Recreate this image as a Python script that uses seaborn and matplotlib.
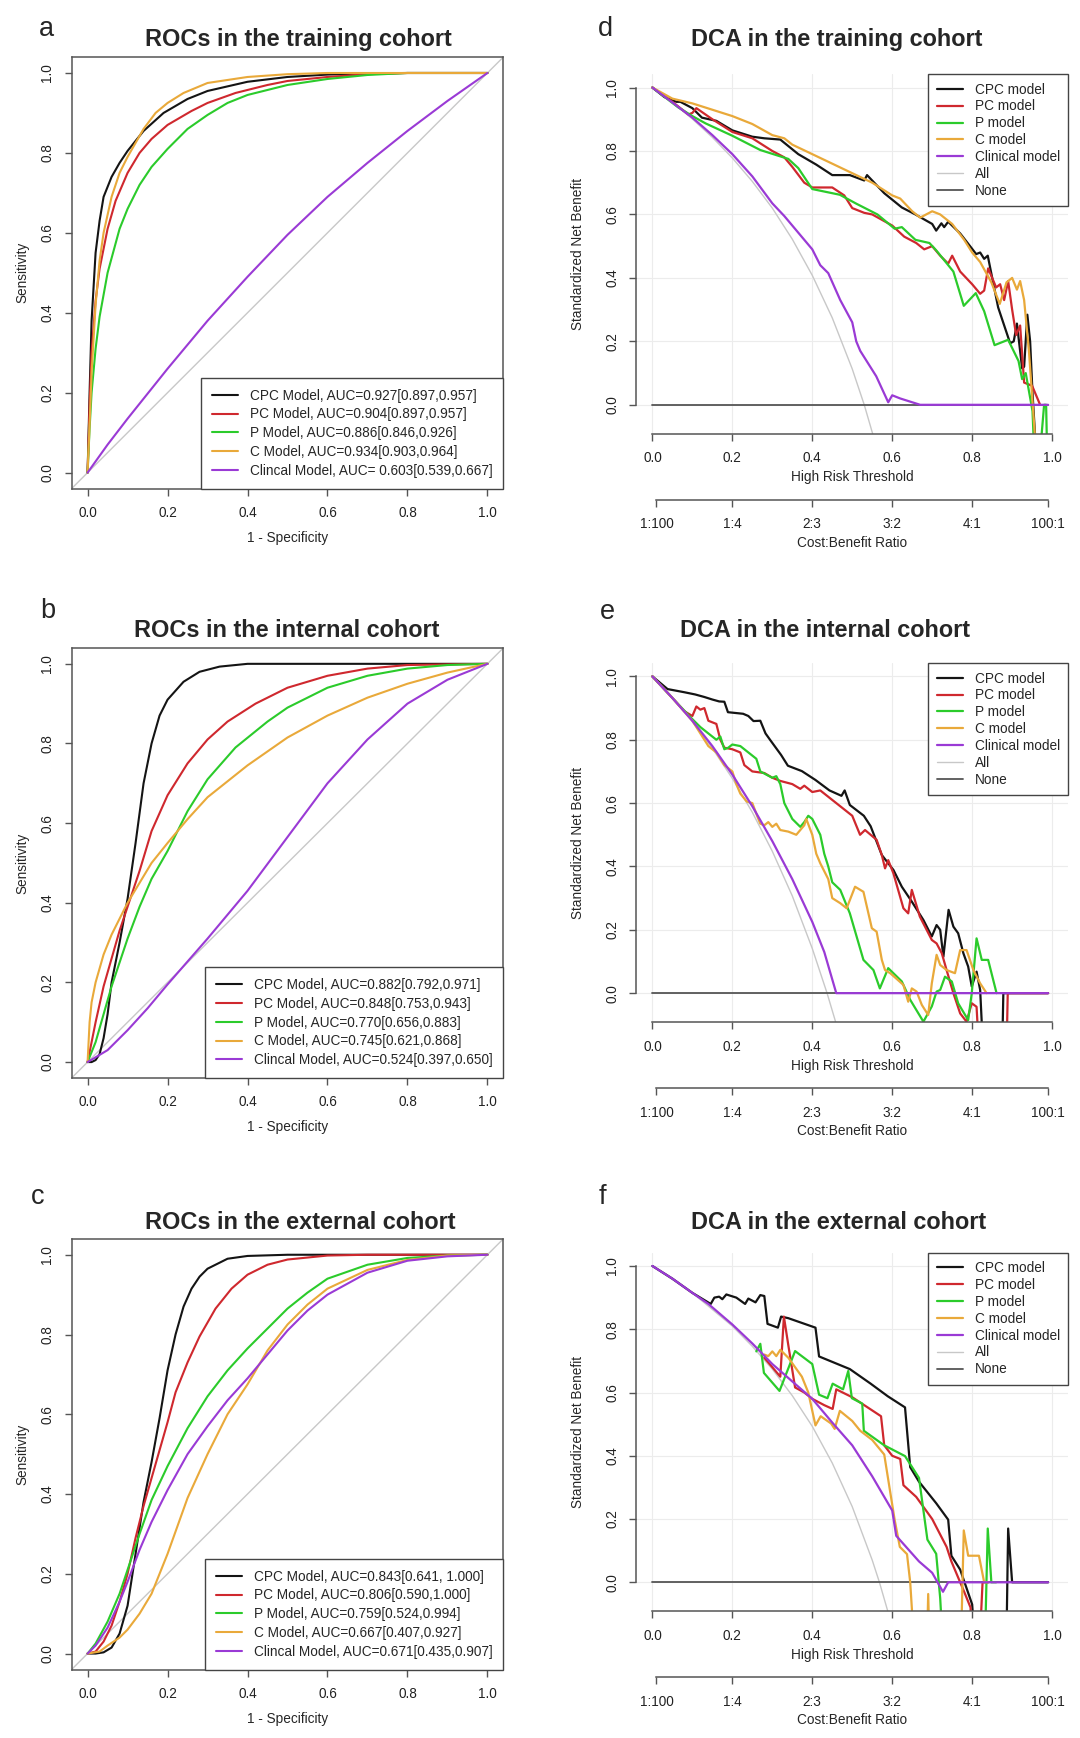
import pandas as pd
import seaborn as sns
import matplotlib.pyplot as plt
from matplotlib.lines import Line2D

# ---------------- ROC curves: (1 - specificity, sensitivity)
roc_a_cpc = [(0, 0), (0.005, 0.2), (0.01, 0.38), (0.02, 0.55), (0.03, 0.63), (0.04, 0.69), (0.06, 0.74),
             (0.08, 0.775), (0.1, 0.805), (0.14, 0.855), (0.19, 0.9), (0.25, 0.935), (0.3, 0.955), (0.4, 0.978),
             (0.5, 0.99), (0.6, 0.996), (0.7, 0.999), (0.8, 1.0), (1.0, 1.0)]
roc_a_pc = [(0, 0), (0.005, 0.17), (0.01, 0.3), (0.02, 0.43), (0.03, 0.51), (0.05, 0.61), (0.07, 0.68), (0.1, 0.75),
            (0.13, 0.8), (0.16, 0.835), (0.2, 0.87), (0.26, 0.905), (0.3, 0.925), (0.37, 0.95), (0.45, 0.97),
            (0.5, 0.98), (0.6, 0.99), (0.7, 0.997), (0.8, 1.0), (1.0, 1.0)]
roc_a_p = [(0, 0), (0.005, 0.11), (0.01, 0.2), (0.02, 0.31), (0.03, 0.39), (0.05, 0.5), (0.08, 0.61), (0.1, 0.66),
           (0.13, 0.72), (0.16, 0.765), (0.2, 0.81), (0.25, 0.86), (0.3, 0.895), (0.35, 0.925), (0.4, 0.945),
           (0.5, 0.97), (0.6, 0.985), (0.7, 0.995), (0.8, 1.0), (1.0, 1.0)]
roc_a_c = [(0, 0), (0.005, 0.12), (0.01, 0.25), (0.02, 0.42), (0.03, 0.53), (0.04, 0.6), (0.06, 0.69), (0.08, 0.75),
           (0.1, 0.79), (0.14, 0.86), (0.17, 0.9), (0.2, 0.925), (0.24, 0.95), (0.3, 0.975), (0.4, 0.99),
           (0.5, 0.997), (0.6, 1.0), (1.0, 1.0)]
roc_a_clin = [(0, 0), (0.05, 0.07), (0.1, 0.135), (0.2, 0.26), (0.3, 0.38), (0.4, 0.49), (0.5, 0.595), (0.6, 0.69),
              (0.7, 0.775), (0.8, 0.855), (0.9, 0.93), (1.0, 1.0)]

roc_b_cpc = [(0, 0), (0.01, 0.0), (0.02, 0.005), (0.03, 0.02), (0.04, 0.06), (0.05, 0.12), (0.06, 0.2), (0.08, 0.3),
             (0.1, 0.41), (0.12, 0.55), (0.14, 0.7), (0.16, 0.8), (0.18, 0.87), (0.2, 0.91), (0.24, 0.955),
             (0.28, 0.98), (0.33, 0.993), (0.4, 1.0), (1.0, 1.0)]
roc_b_pc = [(0, 0), (0.01, 0.05), (0.02, 0.1), (0.04, 0.19), (0.06, 0.26), (0.08, 0.33), (0.1, 0.39), (0.13, 0.48),
            (0.16, 0.58), (0.2, 0.67), (0.25, 0.75), (0.3, 0.81), (0.35, 0.855), (0.42, 0.9), (0.5, 0.94),
            (0.6, 0.97), (0.7, 0.988), (0.8, 0.997), (1.0, 1.0)]
roc_b_p = [(0, 0), (0.02, 0.05), (0.04, 0.12), (0.06, 0.19), (0.08, 0.25), (0.1, 0.31), (0.13, 0.39), (0.16, 0.46),
           (0.2, 0.53), (0.25, 0.63), (0.3, 0.71), (0.37, 0.79), (0.45, 0.855), (0.5, 0.89), (0.6, 0.94),
           (0.7, 0.97), (0.8, 0.988), (0.9, 0.997), (1.0, 1.0)]
roc_b_c = [(0, 0), (0.005, 0.1), (0.01, 0.15), (0.02, 0.2), (0.04, 0.27), (0.06, 0.32), (0.08, 0.36), (0.1, 0.4),
           (0.13, 0.45), (0.16, 0.5), (0.2, 0.55), (0.25, 0.61), (0.3, 0.665), (0.35, 0.705), (0.4, 0.745),
           (0.5, 0.815), (0.6, 0.87), (0.7, 0.915), (0.8, 0.95), (0.9, 0.978), (1.0, 1.0)]
roc_b_clin = [(0, 0), (0.05, 0.03), (0.1, 0.08), (0.15, 0.135), (0.2, 0.195), (0.3, 0.31), (0.4, 0.43), (0.5, 0.565),
              (0.6, 0.7), (0.7, 0.81), (0.8, 0.9), (0.9, 0.96), (1.0, 1.0)]

roc_c_cpc = [(0, 0), (0.02, 0.0), (0.04, 0.003), (0.06, 0.015), (0.08, 0.05), (0.1, 0.12), (0.12, 0.25), (0.14, 0.38),
             (0.16, 0.48), (0.18, 0.59), (0.2, 0.71), (0.22, 0.8), (0.24, 0.87), (0.26, 0.915), (0.28, 0.945),
             (0.3, 0.965), (0.35, 0.99), (0.4, 0.997), (0.5, 1.0), (1.0, 1.0)]
roc_c_pc = [(0, 0), (0.02, 0.005), (0.04, 0.03), (0.06, 0.07), (0.08, 0.13), (0.1, 0.2), (0.12, 0.29), (0.14, 0.37),
            (0.16, 0.44), (0.18, 0.51), (0.2, 0.58), (0.22, 0.655), (0.25, 0.73), (0.28, 0.795), (0.32, 0.865),
            (0.36, 0.915), (0.4, 0.95), (0.45, 0.975), (0.5, 0.988), (0.6, 0.998), (0.7, 1.0), (1.0, 1.0)]
roc_c_p = [(0, 0), (0.02, 0.025), (0.05, 0.08), (0.08, 0.15), (0.1, 0.21), (0.13, 0.3), (0.16, 0.385), (0.2, 0.47),
           (0.25, 0.565), (0.3, 0.645), (0.35, 0.71), (0.4, 0.765), (0.45, 0.815), (0.5, 0.865), (0.55, 0.905),
           (0.6, 0.94), (0.7, 0.975), (0.8, 0.992), (0.9, 0.998), (1.0, 1.0)]
roc_c_c = [(0, 0), (0.03, 0.005), (0.05, 0.02), (0.08, 0.04), (0.1, 0.06), (0.13, 0.1), (0.16, 0.15), (0.2, 0.25),
           (0.25, 0.39), (0.3, 0.5), (0.35, 0.6), (0.4, 0.675), (0.45, 0.76), (0.5, 0.825), (0.55, 0.875),
           (0.6, 0.915), (0.7, 0.962), (0.8, 0.987), (0.9, 0.998), (1.0, 1.0)]
roc_c_clin = [(0, 0), (0.02, 0.02), (0.05, 0.065), (0.08, 0.13), (0.1, 0.18), (0.13, 0.26), (0.16, 0.33), (0.2, 0.41),
              (0.25, 0.5), (0.3, 0.57), (0.35, 0.635), (0.4, 0.69), (0.45, 0.75), (0.5, 0.81), (0.55, 0.86),
              (0.6, 0.9), (0.7, 0.955), (0.8, 0.985), (0.9, 0.996), (1.0, 1.0)]

roc_labels_a = ["CPC Model, AUC=0.927[0.897,0.957]", "PC Model, AUC=0.904[0.897,0.957]",
                "P Model, AUC=0.886[0.846,0.926]", "C Model, AUC=0.934[0.903,0.964]",
                "Clincal Model, AUC= 0.603[0.539,0.667]"]
roc_labels_b = ["CPC Model, AUC=0.882[0.792,0.971]", "PC Model, AUC=0.848[0.753,0.943]",
                "P Model, AUC=0.770[0.656,0.883]", "C Model, AUC=0.745[0.621,0.868]",
                "Clincal Model, AUC=0.524[0.397,0.650]"]
roc_labels_c = ["CPC Model, AUC=0.843[0.641, 1.000]", "PC Model, AUC=0.806[0.590,1.000]",
                "P Model, AUC=0.759[0.524,0.994]", "C Model, AUC=0.667[0.407,0.927]",
                "Clincal Model, AUC=0.671[0.435,0.907]"]

# ---------------- DCA curves: (high risk threshold, standardized net benefit)
dca_d_all = [(0, 1.0), (0.05, 0.953), (0.1, 0.901), (0.15, 0.843), (0.2, 0.778), (0.25, 0.704), (0.3, 0.62),
             (0.35, 0.522), (0.4, 0.408), (0.45, 0.274), (0.5, 0.113), (0.53, 0.0), (0.56, -0.13)]
dca_d_cpc = [(0, 1.0), (0.03, 0.97), (0.06, 0.955), (0.07, 0.955), (0.1, 0.935), (0.124, 0.905), (0.16, 0.895),
             (0.2, 0.865), (0.25, 0.845), (0.28, 0.84), (0.32, 0.836), (0.365, 0.79), (0.41, 0.757), (0.45, 0.724),
             (0.494, 0.724), (0.53, 0.707), (0.537, 0.724), (0.58, 0.667), (0.624, 0.622), (0.658, 0.6),
             (0.7, 0.57), (0.71, 0.549), (0.723, 0.572), (0.73, 0.56), (0.74, 0.577), (0.77, 0.54), (0.796, 0.498),
             (0.81, 0.475), (0.82, 0.48), (0.83, 0.46), (0.839, 0.47), (0.865, 0.307), (0.895, 0.194), (0.904, 0.2),
             (0.912, 0.256), (0.925, 0.115), (0.93, 0.12), (0.938, 0.284), (0.945, 0.2), (0.951, 0.036),
             (0.96, -0.15)]
dca_d_pc = [(0, 1.0), (0.05, 0.955), (0.09, 0.915), (0.1, 0.92), (0.11, 0.935), (0.15, 0.9), (0.2, 0.86),
            (0.25, 0.84), (0.3, 0.8), (0.33, 0.78), (0.35, 0.75), (0.38, 0.7), (0.4, 0.685), (0.45, 0.685),
            (0.48, 0.66), (0.5, 0.62), (0.53, 0.605), (0.55, 0.6), (0.6, 0.565), (0.63, 0.53), (0.66, 0.51),
            (0.68, 0.49), (0.7, 0.5), (0.72, 0.47), (0.74, 0.445), (0.75, 0.47), (0.77, 0.42), (0.8, 0.38),
            (0.82, 0.35), (0.83, 0.36), (0.84, 0.43), (0.86, 0.37), (0.87, 0.38), (0.88, 0.33), (0.89, 0.39),
            (0.9, 0.3), (0.91, 0.22), (0.92, 0.25), (0.93, 0.07), (0.95, 0.06), (0.97, 0.0)]
dca_d_p = [(0, 1.0), (0.064, 0.938), (0.1, 0.91), (0.133, 0.887), (0.2, 0.848), (0.27, 0.803), (0.34, 0.775),
           (0.365, 0.746), (0.4, 0.68), (0.469, 0.662), (0.51, 0.634), (0.563, 0.6), (0.606, 0.555), (0.624, 0.56),
           (0.658, 0.52), (0.693, 0.51), (0.71, 0.487), (0.753, 0.42), (0.779, 0.312), (0.809, 0.352),
           (0.83, 0.295), (0.856, 0.188), (0.89, 0.205), (0.916, 0.138), (0.925, 0.081), (0.934, 0.1),
           (0.951, -0.02), (0.96, -0.3), (0.98, 0.0), (0.985, 0.0), (0.99, -0.3)]
dca_d_c = [(0, 1.0), (0.05, 0.965), (0.1, 0.95), (0.15, 0.93), (0.2, 0.91), (0.25, 0.885), (0.3, 0.85),
           (0.33, 0.84), (0.35, 0.82), (0.4, 0.79), (0.45, 0.76), (0.5, 0.73), (0.55, 0.7), (0.6, 0.66),
           (0.62, 0.65), (0.65, 0.61), (0.67, 0.59), (0.7, 0.61), (0.72, 0.6), (0.75, 0.57), (0.78, 0.52),
           (0.8, 0.48), (0.82, 0.45), (0.848, 0.386), (0.869, 0.318), (0.886, 0.386), (0.9, 0.4), (0.912, 0.363),
           (0.92, 0.39), (0.93, 0.33), (0.942, 0.17), (0.96, -0.15)]
dca_d_clin = [(0, 1.0), (0.05, 0.953), (0.1, 0.905), (0.15, 0.85), (0.2, 0.79), (0.25, 0.72), (0.3, 0.635),
              (0.33, 0.595), (0.36, 0.55), (0.4, 0.49), (0.42, 0.44), (0.44, 0.415), (0.47, 0.33), (0.5, 0.26),
              (0.51, 0.2), (0.52, 0.17), (0.56, 0.09), (0.59, 0.008), (0.6, 0.03), (0.62, 0.02), (0.67, 0.0),
              (0.99, 0.0)]

dca_e_all = [(0, 1.0), (0.05, 0.932), (0.1, 0.857), (0.15, 0.773), (0.2, 0.678), (0.25, 0.571), (0.3, 0.448),
             (0.35, 0.307), (0.4, 0.141), (0.437, 0.0), (0.47, -0.14)]
dca_e_cpc = [(0, 1.0), (0.038, 0.96), (0.08, 0.95), (0.107, 0.943), (0.13, 0.935), (0.15, 0.927), (0.167, 0.921),
             (0.18, 0.92), (0.189, 0.887), (0.227, 0.882), (0.24, 0.875), (0.253, 0.859), (0.27, 0.86),
             (0.283, 0.82), (0.296, 0.797), (0.322, 0.752), (0.339, 0.718), (0.374, 0.701), (0.408, 0.673),
             (0.443, 0.64), (0.473, 0.623), (0.481, 0.64), (0.494, 0.594), (0.529, 0.56), (0.546, 0.527),
             (0.574, 0.436), (0.603, 0.389), (0.624, 0.336), (0.649, 0.289), (0.678, 0.231), (0.699, 0.179),
             (0.711, 0.215), (0.72, 0.2), (0.728, 0.115), (0.741, 0.263), (0.753, 0.21), (0.765, 0.189),
             (0.778, 0.126), (0.79, 0.084), (0.799, 0.021), (0.811, 0.068), (0.82, 0.01), (0.83, -0.25),
             (0.874, -0.25), (0.878, 0.0), (0.99, 0.0)]
dca_e_pc = [(0, 1.0), (0.05, 0.932), (0.08, 0.89), (0.1, 0.875), (0.11, 0.905), (0.12, 0.895), (0.13, 0.9),
            (0.14, 0.86), (0.16, 0.85), (0.17, 0.8), (0.18, 0.775), (0.2, 0.77), (0.22, 0.76), (0.23, 0.72),
            (0.25, 0.7), (0.28, 0.695), (0.3, 0.68), (0.32, 0.67), (0.35, 0.66), (0.37, 0.645), (0.38, 0.655),
            (0.4, 0.635), (0.42, 0.64), (0.45, 0.61), (0.48, 0.58), (0.5, 0.56), (0.5195, 0.5), (0.532, 0.515),
            (0.561, 0.484), (0.574, 0.436), (0.582, 0.394), (0.59, 0.42), (0.603, 0.378), (0.628, 0.268),
            (0.64, 0.252), (0.649, 0.326), (0.669, 0.242), (0.699, 0.168), (0.711, 0.157), (0.724, 0.126),
            (0.736, 0.073), (0.753, 0.0), (0.77, -0.064), (0.786, -0.09), (0.799, -0.032), (0.811, -0.043),
            (0.82, -0.25), (0.885, -0.25), (0.889, 0.0), (0.99, 0.0)]
dca_e_p = [(0, 1.0), (0.05, 0.932), (0.1, 0.865), (0.12, 0.84), (0.14, 0.82), (0.16, 0.8), (0.17, 0.81),
           (0.18, 0.77), (0.19, 0.775), (0.2, 0.785), (0.22, 0.78), (0.24, 0.76), (0.26, 0.74), (0.27, 0.7),
           (0.3, 0.68), (0.31, 0.685), (0.32, 0.66), (0.33, 0.6), (0.35, 0.55), (0.37, 0.525), (0.38, 0.54),
           (0.39, 0.56), (0.4, 0.55), (0.42, 0.5), (0.43, 0.44), (0.44, 0.4), (0.45, 0.35), (0.47, 0.326),
           (0.494, 0.252), (0.528, 0.105), (0.553, 0.073), (0.569, 0.015), (0.59, 0.079), (0.624, 0.037),
           (0.645, -0.021), (0.678, -0.09), (0.699, -0.042), (0.711, 0.005), (0.72, 0.01), (0.732, 0.052),
           (0.749, 0.037), (0.765, -0.032), (0.79, -0.085), (0.799, 0.0), (0.811, 0.173), (0.824, 0.105),
           (0.84, 0.105), (0.861, 0.0)]
dca_e_c = [(0, 1.0), (0.05, 0.932), (0.1, 0.86), (0.12, 0.82), (0.14, 0.78), (0.16, 0.76), (0.18, 0.72),
           (0.2, 0.7), (0.21, 0.66), (0.22, 0.63), (0.236, 0.605), (0.25, 0.6), (0.262, 0.56), (0.27, 0.535),
           (0.28, 0.53), (0.29, 0.54), (0.3, 0.525), (0.31, 0.535), (0.32, 0.515), (0.34, 0.51), (0.36, 0.5),
           (0.38, 0.53), (0.385, 0.55), (0.4, 0.5), (0.41, 0.44), (0.42, 0.41), (0.44, 0.36), (0.45, 0.3),
           (0.47, 0.284), (0.486, 0.268), (0.507, 0.336), (0.528, 0.32), (0.549, 0.205), (0.561, 0.194),
           (0.574, 0.105), (0.582, 0.073), (0.595, 0.063), (0.628, 0.026), (0.64, -0.027), (0.649, 0.015),
           (0.661, 0.005), (0.674, -0.037), (0.69, -0.069), (0.699, 0.031), (0.711, 0.121), (0.72, 0.089),
           (0.736, 0.073), (0.757, 0.063), (0.77, 0.136), (0.786, 0.136), (0.803, 0.073), (0.82, 0.031),
           (0.836, 0.0)]
dca_e_clin = [(0, 1.0), (0.05, 0.932), (0.1, 0.86), (0.15, 0.78), (0.2, 0.69), (0.25, 0.59), (0.3, 0.48),
              (0.35, 0.36), (0.4, 0.225), (0.43, 0.13), (0.46, 0.0), (0.99, 0.0)]

dca_f_all = [(0, 1.0), (0.1, 0.915), (0.2, 0.81), (0.25, 0.746), (0.3, 0.674), (0.35, 0.59), (0.4, 0.493),
             (0.45, 0.377), (0.5, 0.239), (0.55, 0.07), (0.568, 0.0), (0.6, -0.14)]
dca_f_cpc = [(0, 1.0), (0.05, 0.96), (0.1, 0.915), (0.146, 0.88), (0.155, 0.9), (0.167, 0.903), (0.175, 0.895),
             (0.185, 0.91), (0.21, 0.9), (0.232, 0.88), (0.24, 0.897), (0.258, 0.885), (0.27, 0.908),
             (0.28, 0.905), (0.288, 0.817), (0.314, 0.805), (0.322, 0.84), (0.34, 0.835), (0.408, 0.805),
             (0.417, 0.714), (0.494, 0.674), (0.546, 0.628), (0.589, 0.588), (0.632, 0.553), (0.645, 0.364),
             (0.667, 0.318), (0.71, 0.25), (0.74, 0.198), (0.748, 0.084), (0.77, 0.04), (0.8, -0.07), (0.81, -0.25),
             (0.885, -0.25), (0.89, 0.17), (0.9, 0.0), (0.99, 0.0)]
dca_f_pc = [(0.28, 0.71), (0.3, 0.68), (0.32, 0.65), (0.329, 0.84), (0.34, 0.75), (0.357, 0.616), (0.38, 0.6),
            (0.4, 0.58), (0.43, 0.56), (0.451, 0.548), (0.46, 0.61), (0.5, 0.585), (0.53, 0.56), (0.572, 0.525),
            (0.58, 0.433), (0.6, 0.4), (0.62, 0.39), (0.628, 0.307), (0.66, 0.27), (0.7, 0.2), (0.736, 0.112),
            (0.748, 0.066), (0.78, -0.03), (0.796, -0.08), (0.8, -0.3), (0.815, -0.3), (0.826, 0.0), (0.84, 0.0)]
dca_f_p = [(0.26, 0.73), (0.27, 0.754), (0.279, 0.662), (0.318, 0.605), (0.357, 0.731), (0.4, 0.69),
           (0.417, 0.593), (0.438, 0.582), (0.451, 0.628), (0.477, 0.61), (0.49, 0.668), (0.499, 0.582),
           (0.525, 0.565), (0.529, 0.479), (0.58, 0.433), (0.632, 0.399), (0.667, 0.33), (0.688, 0.135),
           (0.71, 0.09), (0.72, -0.05), (0.731, -0.3), (0.83, -0.3), (0.839, 0.17), (0.848, 0.0), (0.86, 0.0)]
dca_f_c = [(0.28, 0.72), (0.29, 0.715), (0.3, 0.73), (0.31, 0.715), (0.32, 0.735), (0.34, 0.71), (0.374, 0.65),
           (0.39, 0.6), (0.408, 0.496), (0.421, 0.525), (0.447, 0.502), (0.456, 0.485), (0.469, 0.542),
           (0.5, 0.51), (0.52, 0.479), (0.55, 0.45), (0.58, 0.404), (0.606, 0.198), (0.619, 0.112),
           (0.637, 0.089), (0.645, 0.0), (0.66, -0.3), (0.685, -0.3), (0.69, -0.037), (0.695, -0.3), (0.77, -0.3),
           (0.779, 0.164), (0.79, 0.084), (0.817, 0.084), (0.83, 0.0), (0.84, 0.0)]
dca_f_clin = [(0, 1.0), (0.05, 0.96), (0.1, 0.915), (0.14, 0.88), (0.2, 0.815), (0.25, 0.755), (0.3, 0.69),
              (0.35, 0.635), (0.4, 0.58), (0.45, 0.505), (0.5, 0.433), (0.55, 0.335), (0.6, 0.227), (0.61, 0.147),
              (0.667, 0.066), (0.7, 0.03), (0.727, -0.03), (0.74, 0.0), (0.99, 0.0)]

dca_none = [(0.0, 0.0), (0.99, 0.0)]
dca_labels = ["CPC model", "PC model", "P model", "C model", "Clinical model", "All", "None"]

models = ["CPC", "PC", "P", "C", "Clinical"]
model_colors = ["#141414", "#CF282E", "#2BCB2B", "#E9A93A", "#9A3AD5"]
axis_ticks = [0.0, 0.2, 0.4, 0.6, 0.8, 1.0]
axis_tick_labels = ["0.0", "0.2", "0.4", "0.6", "0.8", "1.0"]
cost_ticks = [0.01, 0.2, 0.4, 0.6, 0.8, 0.99]
cost_labels = ["1:100", "1:4", "2:3", "3:2", "4:1", "100:1"]

W, H = 1080, 1738
SMALL = 9.8
AXC = "#555555"

sns.set_theme(style="ticks")
plt.rcParams["font.family"] = ["Liberation Sans", "DejaVu Sans"]
fig = plt.figure(figsize=(W / 100, H / 100), dpi=100)
fig.patch.set_facecolor("white")


def long_frame(curves):
    frames = [pd.DataFrame(pts, columns=["x", "y"]).assign(model=m) for m, pts in zip(models, curves)]
    return pd.concat(frames, ignore_index=True)


def add_box(left, top, right, bottom):
    ax = fig.add_axes([left / W, 1 - bottom / H, (right - left) / W, (bottom - top) / H])
    return ax, right - left, bottom - top


def style_ticks(ax):
    ax.set_xticks(axis_ticks, axis_tick_labels)
    ax.set_yticks(axis_ticks, axis_tick_labels, rotation=90, va="center")
    ax.tick_params(direction="out", length=5, width=1, color=AXC, labelsize=SMALL, pad=7.5,
                   labelcolor="#222222")


def draw_roc(rect, curves, labels):
    ax, w, h = add_box(*rect)
    ax.axline((0, 0), (1, 1), color="#c8c8c8", lw=1.0, zorder=1)
    sns.lineplot(data=long_frame(curves), x="x", y="y", hue="model", hue_order=models,
                 palette=model_colors, sort=False, estimator=None, lw=1.5, legend=False, ax=ax)
    ax.set_xlim(-0.04, 1.04)
    ax.set_ylim(-0.04, 1.04)
    style_ticks(ax)
    for s in ax.spines.values():
        s.set_color(AXC)
        s.set_linewidth(1.1)
    ax.set_xlabel("1 - Specificity", fontsize=SMALL, va="center")
    ax.set_ylabel("Sensitivity", fontsize=SMALL, va="center")
    ax.xaxis.set_label_coords(0.5, -49 / h)
    ax.yaxis.set_label_coords(-49 / w, 0.5)
    handles = [Line2D([], [], color=c, lw=1.5) for c in model_colors]
    leg = ax.legend(handles, labels, loc="lower right", borderaxespad=0, fontsize=SMALL, frameon=True,
                    fancybox=False, edgecolor="#444444", framealpha=1, handlelength=1.9,
                    handletextpad=0.88, labelspacing=0.35, borderpad=0.8)
    leg.get_frame().set_linewidth(1.0)


def draw_dca(rect, curves, all_pts):
    ax, w, h = add_box(*rect)
    ax.grid(True, color="#ececec", lw=0.8)
    ax.set_axisbelow(True)
    all_df = pd.DataFrame(all_pts, columns=["x", "y"])
    none_df = pd.DataFrame(dca_none, columns=["x", "y"])
    sns.lineplot(data=all_df, x="x", y="y", color="#c8c8c8", lw=1.0, sort=False, estimator=None, ax=ax)
    sns.lineplot(data=none_df, x="x", y="y", color="#555555", lw=1.3, sort=False, estimator=None, ax=ax)
    sns.lineplot(data=long_frame(curves), x="x", y="y", hue="model", hue_order=models,
                 palette=model_colors, sort=False, estimator=None, lw=1.6, legend=False, ax=ax)
    ax.set_xlim(-0.04, 1.04)
    ax.set_ylim(-0.092, 1.042)
    style_ticks(ax)
    ax.spines["top"].set_visible(False)
    ax.spines["right"].set_visible(False)
    for s in ["left", "bottom"]:
        ax.spines[s].set_bounds(0, 1)
        ax.spines[s].set_color(AXC)
        ax.spines[s].set_linewidth(1.1)
    ax.set_xlabel("High Risk Threshold", fontsize=SMALL, va="center")
    ax.set_ylabel("Standardized Net Benefit", fontsize=SMALL, va="center")
    ax.xaxis.set_label_coords(0.5, -43.5 / h)
    ax.yaxis.set_label_coords(-58.5 / w, 0.5)

    handles = [Line2D([], [], color=c, lw=1.6) for c in model_colors]
    handles += [Line2D([], [], color="#c8c8c8", lw=1.0), Line2D([], [], color="#555555", lw=1.3)]
    leg = ax.legend(handles, dca_labels, loc="upper right", borderaxespad=0, fontsize=SMALL, frameon=True,
                    fancybox=False, edgecolor="#444444", framealpha=1, handlelength=1.9,
                    handletextpad=0.88, labelspacing=0.21, borderpad=0.62)
    leg.get_frame().set_linewidth(1.0)

    # cost:benefit ratio axis under the threshold axis
    ax2 = ax.twiny()
    ax2.set_xlim(ax.get_xlim())
    ax2.xaxis.set_ticks_position("bottom")
    ax2.xaxis.set_label_position("bottom")
    ax2.spines["bottom"].set_position(("outward", 66 * 0.72))
    for s in ["top", "left", "right"]:
        ax2.spines[s].set_visible(False)
    ax2.spines["bottom"].set_bounds(cost_ticks[0], cost_ticks[-1])
    ax2.spines["bottom"].set_color(AXC)
    ax2.spines["bottom"].set_linewidth(1.1)
    ax2.set_xticks(cost_ticks, cost_labels)
    ax2.tick_params(axis="x", direction="out", length=5, width=1, color=AXC, labelsize=SMALL, pad=7.5,
                    labelcolor="#222222")
    ax2.grid(False)
    ax2.set_xlabel("Cost:Benefit Ratio", fontsize=SMALL, va="center")
    ax2.xaxis.set_label_coords(0.5, -109 / h)


draw_roc((71.6, 57, 503.4, 488.6), [roc_a_cpc, roc_a_pc, roc_a_p, roc_a_c, roc_a_clin], roc_labels_a)
draw_roc((71.6, 647.9, 503.4, 1078), [roc_b_cpc, roc_b_pc, roc_b_p, roc_b_c, roc_b_clin], roc_labels_b)
draw_roc((71.6, 1238.8, 503.4, 1669.5), [roc_c_cpc, roc_c_pc, roc_c_p, roc_c_c, roc_c_clin], roc_labels_c)

draw_dca((636.4, 74.2, 1068.1, 434), [dca_d_cpc, dca_d_pc, dca_d_p, dca_d_c, dca_d_clin], dca_d_all)
draw_dca((636.4, 663.1, 1068.1, 1022.3), [dca_e_cpc, dca_e_pc, dca_e_p, dca_e_c, dca_e_clin], dca_e_all)
draw_dca((636.4, 1252.7, 1068.1, 1611.4), [dca_f_cpc, dca_f_pc, dca_f_p, dca_f_c, dca_f_clin], dca_f_all)

# titles and panel letters (pixel positions, baseline)
titles = [("ROCs in the training cohort", 298, 46.4), ("ROCs in the internal cohort", 287, 637.1),
          ("ROCs in the external cohort", 300, 1228.7), ("DCA in the training cohort", 837, 46.4),
          ("DCA in the internal cohort", 825, 637.1), ("DCA in the external cohort", 839, 1228.7)]
for text, x, y in titles:
    fig.text(x / W, 1 - y / H, text, ha="center", va="baseline", fontsize=16.9, fontweight="bold")

letters = [("a", 46.5, 35.7), ("b", 48.2, 617.5), ("c", 37.9, 1204.4),
           ("d", 605.4, 35.7), ("e", 607.1, 619.3), ("f", 602, 1204.4)]
for text, x, y in letters:
    fig.text(x / W, 1 - y / H, text, ha="center", va="baseline", fontsize=19.5)

fig.savefig("out.png", dpi=100, facecolor="white")
